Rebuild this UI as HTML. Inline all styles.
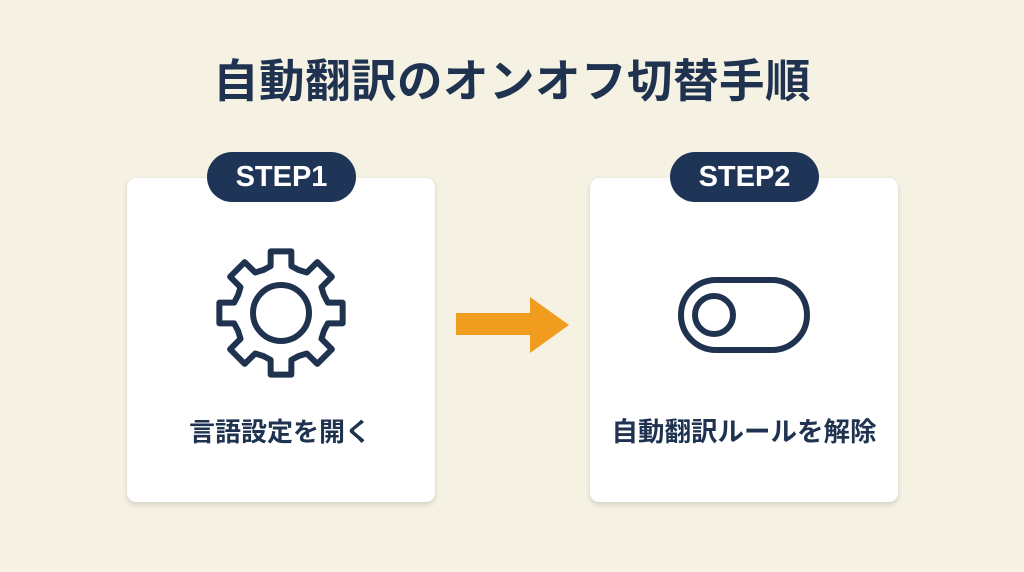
<!DOCTYPE html>
<html>
<head>
<meta charset="utf-8">
<style>
  html,body{margin:0;padding:0;}
  body{width:1024px;height:572px;background:#F5F1E3;position:relative;overflow:hidden;
    font-family:"Liberation Sans","Noto Sans CJK JP",sans-serif;color:#1F3350;}
  .title{position:absolute;left:0;width:1024px;top:52px;text-align:center;font-size:45.5px;font-weight:bold;
    letter-spacing:0.5px;line-height:60px;color:#1F3350;}
  .card{position:absolute;top:178px;width:308px;height:324px;background:#fff;border-radius:9px;
    box-shadow:0 3px 6px rgba(0,0,0,0.12),0 0 2px rgba(0,0,0,0.06);}
  .pill{position:absolute;top:152px;width:149px;height:50px;background:#1F3557;border-radius:25px;
    color:#fff;font-weight:bold;font-size:29px;text-align:center;line-height:50px;font-family:"Liberation Sans",sans-serif;}
  .label{position:absolute;left:0;width:308px;text-align:center;top:234px;font-size:26px;font-weight:bold;line-height:40px;color:#1F3350;}
  svg{position:absolute;left:0;top:0;}
</style>
</head>
<body>
<div class="title">自動翻訳のオンオフ切替手順</div>

<div class="card" style="left:127px;">
  <div class="label" style="left:-1px;">言語設定を開く</div>
</div>
<div class="card" style="left:590px;">
  <div class="label" style="font-size:26.5px;">自動翻訳ルールを解除</div>
</div>

<div class="pill" style="left:207px;">STEP1</div>
<div class="pill" style="left:670px;">STEP2</div>

<svg width="1024" height="572" viewBox="0 0 1024 572">
  <!-- gear -->
  <g transform="translate(281,313)" fill="none" stroke="#1F3350" stroke-width="6" stroke-linejoin="round">
    <path id="gearpath" d=""/>
    <circle r="28" />
  </g>
  <!-- arrow -->
  <polygon points="456,313 530,313 530,297 569,325 530,353 530,335 456,335" fill="#F09C1E"/>
  <!-- toggle -->
  <rect x="681" y="280" width="126" height="70" rx="35" ry="35" fill="none" stroke="#1F3350" stroke-width="6"/>
  <circle cx="714" cy="315" r="19" fill="none" stroke="#1F3350" stroke-width="6"/>
</svg>
<script>
(function(){
  var pts=[];
  function p(r,a){var t=(a-90)*Math.PI/180;return [r*Math.cos(t),r*Math.sin(t)];}
  for(var i=0;i<8;i++){
    var c=i*45;
    pts.push(p(48,c-12.5));
    pts.push(p(62.5,c-9.5));
    pts.push(p(62.5,c+9.5));
    pts.push(p(48,c+12.5));
    pts.push(p(46.5,c+22.5));
  }
  var d="M"+pts.map(function(q){return q[0].toFixed(2)+","+q[1].toFixed(2);}).join(" L")+" Z";
  document.getElementById("gearpath").setAttribute("d",d);
})();
</script>
</body>
</html>
